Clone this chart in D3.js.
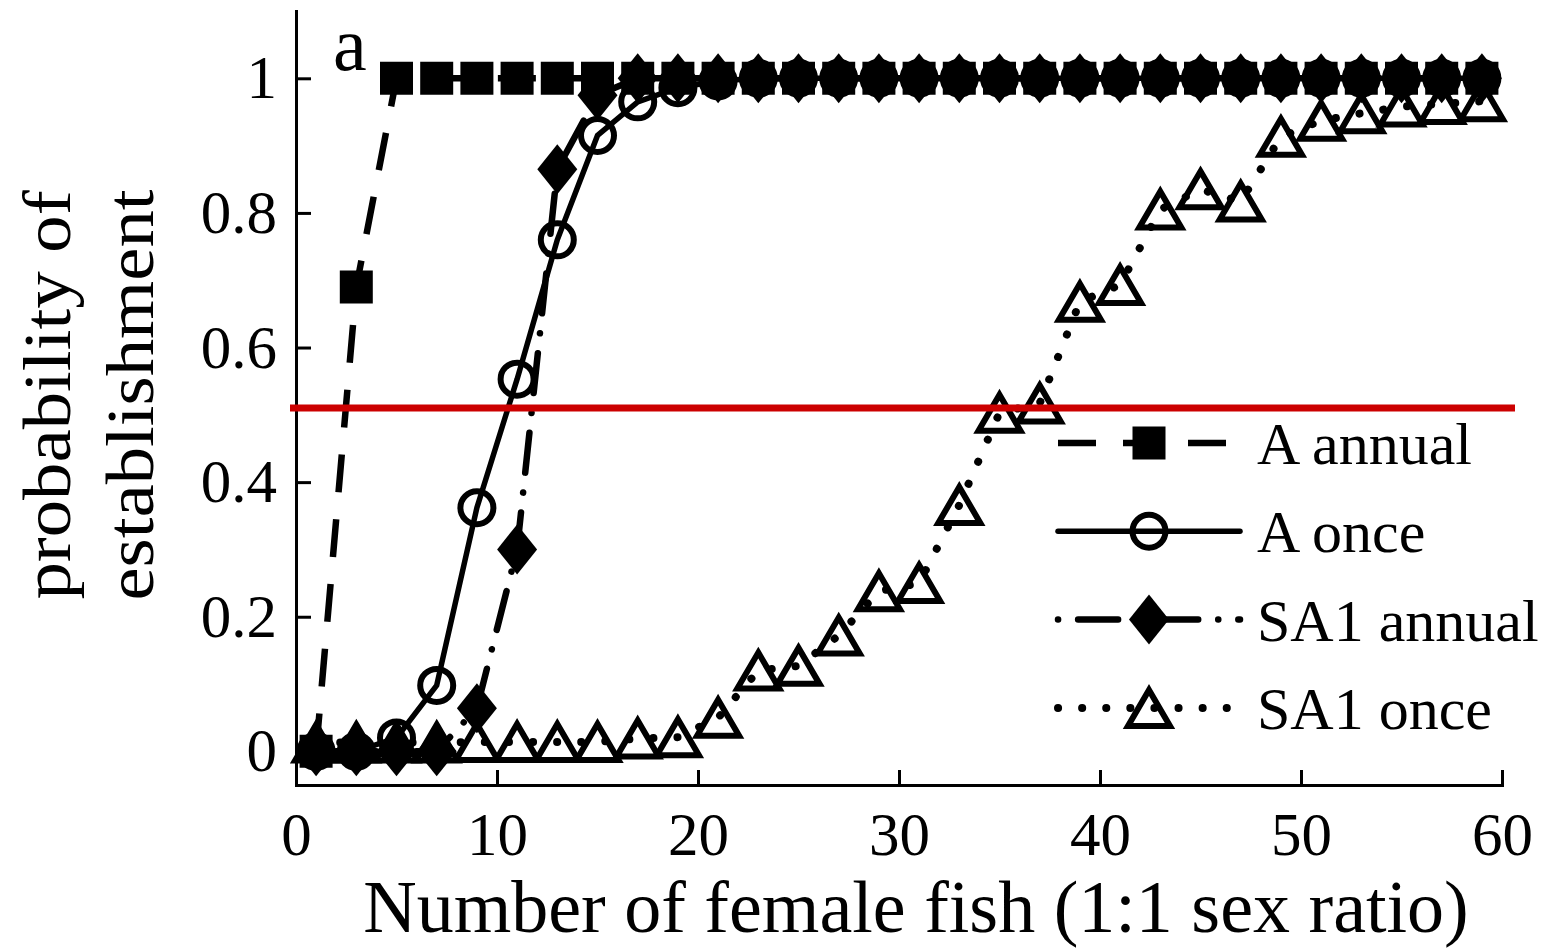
<!DOCTYPE html>
<html>
<head>
<meta charset="utf-8">
<script src="https://cdn.jsdelivr.net/npm/d3@7"></script>
<style>
  body { margin: 0; background: #fff; }
  text { font-family: "Liberation Serif", "Times New Roman", serif; fill: #000; }
</style>
</head>
<body>
<script>
// Screen dimensions.
const WIDTH = 1541;
const HEIGHT = 948;

// Number of female fish released (x of every point).
const fish = [1, 3, 5, 7, 9, 11, 13, 15, 17, 19, 21, 23, 25, 27, 29,
              31, 33, 35, 37, 39, 41, 43, 45, 47, 49, 51, 53, 55, 57, 59];

// Probability of establishment, one list per scenario.
const aAnnual = [0, 0.69, 1, 1, 1, 1, 1, 1, 1, 1, 1, 1, 1, 1, 1,
                 1, 1, 1, 1, 1, 1, 1, 1, 1, 1, 1, 1, 1, 1, 1];
const aOnce = [0, 0, 0.02, 0.098, 0.362, 0.553, 0.76, 0.915, 0.965, 0.986, 0.996, 1, 1, 1, 1,
               1, 1, 1, 1, 1, 1, 1, 1, 1, 1, 1, 1, 1, 1, 1];
const sa1Annual = [0, 0, 0, 0, 0.064, 0.3, 0.865, 0.975, 1, 1, 1, 1, 1, 1, 1,
                   1, 1, 1, 1, 1, 1, 1, 1, 1, 1, 1, 1, 1, 1, 1];
const sa1Once = [0.013, 0.013, 0.013, 0.013, 0.014, 0.014, 0.014, 0.014, 0.019, 0.021, 0.05, 0.12, 0.127, 0.172, 0.238,
                 0.25, 0.366, 0.503, 0.517, 0.668, 0.693, 0.805, 0.835, 0.817, 0.913, 0.937, 0.948, 0.958, 0.962, 0.966];

const seriesNames = ["A annual", "A once", "SA1 annual", "SA1 once"];

// Axis ticks and the 50% reference line.
const xTicks = [0, 10, 20, 30, 40, 50, 60];
const yTicks = [0, 0.2, 0.4, 0.6, 0.8, 1];
const threshold = 0.51;

// Marker shapes.
function markerPath(kind) {
    if (kind === "square") return "M-16.5,-16.5H16.5V16.5H-16.5Z";
    if (kind === "diamond") return "M0,-25L20,0L0,25L-20,0Z";
    if (kind === "triangle") return "M0,-18L21,18H-21Z";
    return d3.arc()({innerRadius: 0, outerRadius: 16.5, startAngle: 0, endAngle: 2 * Math.PI});
}

const styles = [
    {values: aAnnual, dash: "38,27", width: 6.5, cap: "butt", marker: "square", fill: "#000", stroke: "none"},
    {values: aOnce, dash: null, width: 5.5, cap: "round", marker: "circle", fill: "none", stroke: "#000"},
    {values: sa1Annual, dash: "0.1,20,40,20", width: 6.5, cap: "round", marker: "diamond", fill: "#000", stroke: "none"},
    {values: sa1Once, dash: "0.1,24", width: 8, cap: "round", marker: "triangle", fill: "none", stroke: "#000"}
];

// SVG
const svg = d3.select("body").append("svg").attr("width", WIDTH).attr("height", HEIGHT);
svg.append("rect").attr("width", WIDTH).attr("height", HEIGHT).attr("fill", "#fff");

const x = d3.scaleLinear().domain([0, 60]).range([296, 1502]);
const y = d3.scaleLinear().domain([-0.05, 1.1]).range([785, 11]);

// Axes
const yAxis = svg.append("g")
    .attr("transform", `translate(${x(0)},0)`)
    .call(d3.axisLeft(y).tickValues(yTicks).tickSizeInner(-15).tickSizeOuter(0).tickPadding(19)
        .tickFormat(d => String(d)));
const xAxis = svg.append("g")
    .attr("transform", `translate(0,${y.range()[0]})`)
    .call(d3.axisBottom(x).tickValues(xTicks).tickSizeInner(-15).tickSizeOuter(0).tickPadding(27));

[xAxis, yAxis].forEach(g => {
    g.attr("font-size", 61).attr("font-family", "Liberation Serif, Times New Roman, serif");
    g.selectAll("path, line").attr("stroke", "#000").attr("stroke-width", 3);
    g.select(".domain").attr("stroke-linecap", "square");
    g.selectAll("text").attr("fill", "#000");
});

// Series lines and markers
const line = d3.line().x((d, i) => x(fish[i])).y(d => y(d));

styles.forEach(s => {
    svg.append("path")
        .attr("d", line(s.values))
        .attr("fill", "none")
        .attr("stroke", "#000")
        .attr("stroke-width", s.width)
        .attr("stroke-linecap", s.cap)
        .attr("stroke-dasharray", s.dash);

    svg.append("g").selectAll("path").data(s.values).enter().append("path")
        .attr("d", markerPath(s.marker))
        .attr("transform", (d, i) => `translate(${x(fish[i])},${y(d)})`)
        .attr("fill", s.fill)
        .attr("stroke", s.stroke)
        .attr("stroke-width", 6);
});

// Red threshold line
svg.append("line")
    .attr("x1", x(0) - 6).attr("x2", x(60) + 13)
    .attr("y1", y(threshold)).attr("y2", y(threshold))
    .attr("stroke", "#cc0000")
    .attr("stroke-width", 7);

// Legend
const legend = svg.append("g").attr("transform", "translate(1058,443)");
styles.forEach((s, i) => {
    const row = legend.append("g").attr("transform", `translate(0,${i * 88.3})`);
    row.append("line")
        .attr("x1", 0).attr("x2", 182)
        .attr("stroke", "#000")
        .attr("stroke-width", s.width)
        .attr("stroke-linecap", s.cap)
        .attr("stroke-dasharray", s.dash);
    row.append("path")
        .attr("d", markerPath(s.marker))
        .attr("transform", "translate(91,0)")
        .attr("fill", s.fill)
        .attr("stroke", s.stroke)
        .attr("stroke-width", 6);
    row.append("text")
        .attr("x", 199).attr("y", 21)
        .attr("font-size", 60)
        .text(seriesNames[i]);
});

// Panel letter
svg.append("text").attr("x", 333).attr("y", 70).attr("font-size", 76).text("a");

// Axis titles
svg.append("text")
    .attr("x", (x(0) + x(60)) / 2 + 17).attr("y", 932)
    .attr("text-anchor", "middle")
    .attr("font-size", 74)
    .text("Number of female fish (1:1 sex ratio)");

const yTitle = svg.append("g").attr("transform", "translate(0,395) rotate(-90) scale(1.1,1)");
yTitle.append("text").attr("x", 0).attr("y", 70).attr("text-anchor", "middle")
    .attr("font-size", 68).text("probability of");
yTitle.append("text").attr("x", 0).attr("y", 153).attr("text-anchor", "middle")
    .attr("font-size", 68).text("establishment");
</script>
</body>
</html>
